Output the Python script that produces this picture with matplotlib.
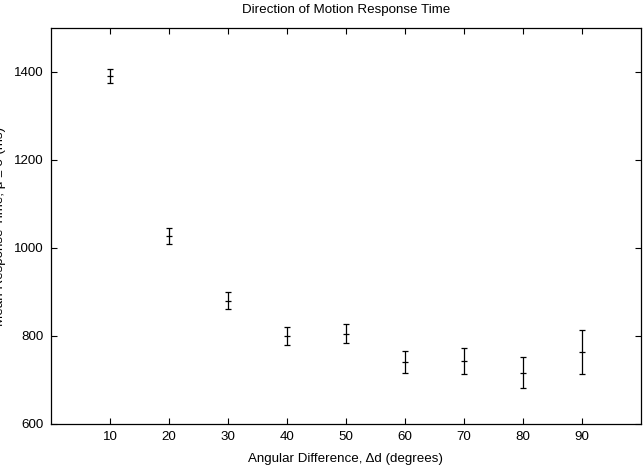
import matplotlib
matplotlib.use('Agg')
import matplotlib.pyplot as plt

# angular difference (degrees) and mean response time (ms)
angles = [10, 20, 30, 40, 50, 60, 70, 80, 90]
mean_rt = [1390, 1027, 880, 800, 805, 740, 743, 717, 764]
std_rt = [16, 18, 19, 21, 22, 25, 29, 35, 50]

plt.rcParams['font.family'] = ['Liberation Sans', 'DejaVu Sans']
plt.rcParams['font.size'] = 9.6

fig = plt.figure(figsize=(6.44, 4.68), dpi=100)
ax = fig.add_axes([51 / 644, 44 / 468, 590 / 644, 396 / 468])

ax.errorbar(angles, mean_rt, yerr=std_rt, fmt='_', color='black',
            markersize=5, markeredgewidth=0.9, elinewidth=0.9,
            capsize=2.5, capthick=0.9)

ax.set_xlim(0, 100)
ax.set_ylim(600, 1500)
ax.set_xticks(angles)
ax.set_yticks([600, 800, 1000, 1200, 1400])
ax.tick_params(direction='in', length=4.5, width=0.8, top=True, right=True,
               labelsize=9.6, pad=5, colors='black')
for s in ax.spines.values():
    s.set_linewidth(0.9)

ax.set_title('Direction of Motion Response Time', fontsize=9.6, pad=11)
ax.set_xlabel('Angular Difference, \u0394d (degrees)', fontsize=9.6, labelpad=7)
# the reference crops this label at the left edge
ax.set_ylabel('Mean Response Time, \u03bc \u00b1 \u03c3 (ms)', fontsize=9.6)
ax.yaxis.set_label_coords(-0.076, 0.5)

fig.savefig('out.png', dpi=100)
